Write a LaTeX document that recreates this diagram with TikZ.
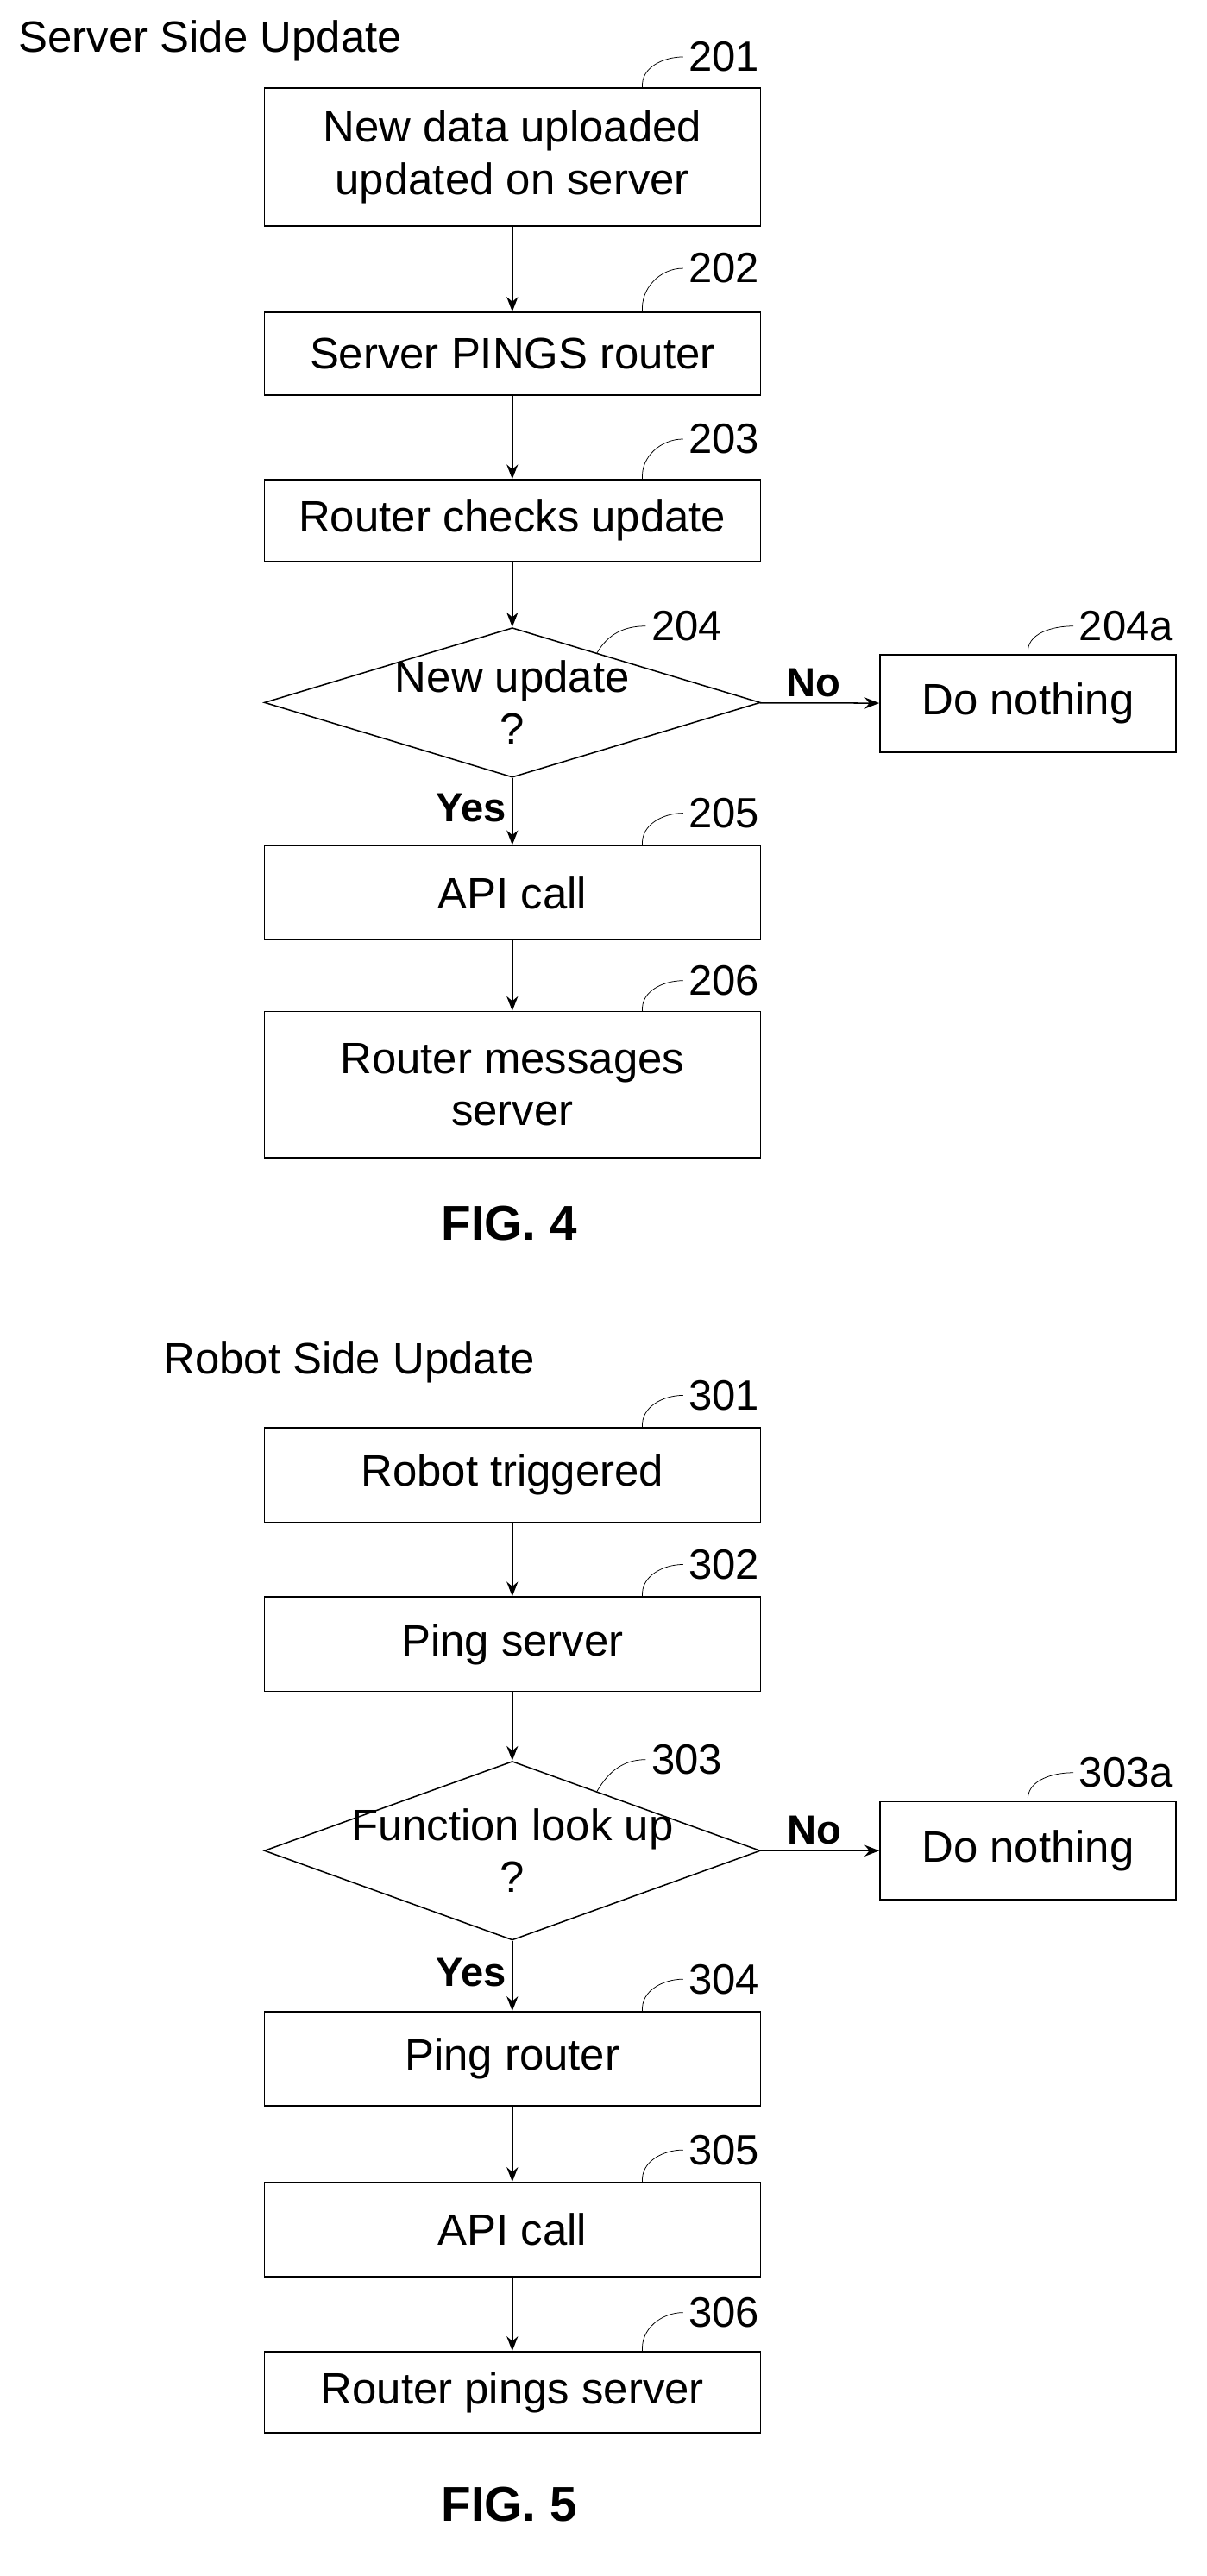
\documentclass[tikz,border=0pt]{standalone}
\usepackage{fontspec}
\setmainfont{Liberation Sans}
\usetikzlibrary{shapes.geometric,arrows.meta}

\begin{document}
\begin{tikzpicture}[x=1pt, y=-1pt,
    box/.style={rectangle, draw, thick, minimum width=305pt, align=center,
      font=\fontsize{27}{32}\selectfont, inner sep=2pt},
    side/.style={rectangle, draw, thick, minimum width=182pt, minimum height=60pt,
      font=\fontsize{27}{32}\selectfont},
    decide/.style={diamond, draw, thick, minimum width=305pt, minimum height=92pt,
      inner xsep=-90pt, inner ysep=-30pt, align=center, font=\fontsize{27}{32}\selectfont},
    tag/.style={font=\fontsize{26}{30}\selectfont, anchor=west},
    lead/.style={thin},
    flow/.style={-{Stealth[length=9pt,width=7pt]}, thick},
    yn/.style={font=\bfseries\fontsize{25}{30}\selectfont},
    fig/.style={font=\bfseries\fontsize{30}{34}\selectfont}]
    \useasboundingbox (0,0) rectangle (742,1584);

    % FIG. 4
    \node[anchor=west, font=\fontsize{27}{32}\selectfont] (srvtitle) at (8,25) {Server Side Update};
    \node[box, minimum height=85pt] (b201) at (315,96.5) {New data uploaded\\updated on server};
    \node[box, minimum height=51pt] (b202) at (315,217.5) {Server PINGS router};
    \node[box, minimum height=50pt] (b203) at (315,320) {Router checks update};
    \node[decide] (d204) at (315,432) {New update\\?};
    \node[side] (b204a) at (632,432.5) {Do nothing};
    \node[box, minimum height=58pt] (b205) at (315,549) {API call};
    \node[box, minimum height=90pt] (b206) at (315,667) {Router messages\\server};
    \node[fig] (fig4) at (313,752) {FIG. 4};

    \node[tag] (t201) at (420,35) {201};
    \node[tag] (t202) at (420,165) {202};
    \node[tag] (t203) at (420,270) {203};
    \node[tag] (t204) at (397,385) {204};
    \node[tag] (t204a) at (660,385) {204a};
    \node[tag] (t205) at (420,500) {205};
    \node[tag] (t206) at (420,603) {206};

    \draw[lead] (b201.north)++(80,0) to[out=95,in=180] (t201.west);
    \draw[lead] (b202.north)++(80,0) to[out=95,in=180] (t202.west);
    \draw[lead] (b203.north)++(80,0) to[out=95,in=180] (t203.west);
    \draw[lead] (d204.north)++(52,16) to[out=60,in=180] (t204.west);
    \draw[lead] (b204a.north)++(0,0) to[out=95,in=180] (t204a.west);
    \draw[lead] (b205.north)++(80,0) to[out=95,in=180] (t205.west);
    \draw[lead] (b206.north)++(80,0) to[out=95,in=180] (t206.west);

    \draw[flow] (b201) -- (b202);
    \draw[flow] (b202) -- (b203);
    \draw[flow] (b203) -- (d204);
    \draw[flow] (d204) -- node[yn, pos=0.45, above] {No} (b204a);
    \draw[flow] (d204) -- node[yn, left, pos=0.45] {Yes} (b205);
    \draw[flow] (b205) -- (b206);

    % FIG. 5
    \node[anchor=west, font=\fontsize{27}{32}\selectfont] (robtitle) at (97,838) {Robot Side Update};
    \node[box, minimum height=58pt] (b301) at (315,907) {Robot triggered};
    \node[box, minimum height=58pt] (b302) at (315,1011) {Ping server};
    \node[decide, minimum height=110pt] (d303) at (315,1138) {Function look up\\?};
    \node[side] (b303a) at (632,1138) {Do nothing};
    \node[box, minimum height=58pt] (b304) at (315,1266) {Ping router};
    \node[box, minimum height=58pt] (b305) at (315,1371) {API call};
    \node[box, minimum height=50pt] (b306) at (315,1471) {Router pings server};
    \node[fig] (fig5) at (313,1540) {FIG. 5};

    \node[tag] (t301) at (420,858) {301};
    \node[tag] (t302) at (420,962) {302};
    \node[tag] (t303) at (397,1082) {303};
    \node[tag] (t303a) at (660,1090) {303a};
    \node[tag] (t304) at (420,1217) {304};
    \node[tag] (t305) at (420,1322) {305};
    \node[tag] (t306) at (420,1422) {306};

    \draw[lead] (b301.north)++(80,0) to[out=95,in=180] (t301.west);
    \draw[lead] (b302.north)++(80,0) to[out=95,in=180] (t302.west);
    \draw[lead] (d303.north)++(52,19) to[out=60,in=180] (t303.west);
    \draw[lead] (b303a.north)++(0,0) to[out=95,in=180] (t303a.west);
    \draw[lead] (b304.north)++(80,0) to[out=95,in=180] (t304.west);
    \draw[lead] (b305.north)++(80,0) to[out=95,in=180] (t305.west);
    \draw[lead] (b306.north)++(80,0) to[out=95,in=180] (t306.west);

    \draw[flow] (b301) -- (b302);
    \draw[flow] (b302) -- (d303);
    \draw[flow] (d303) -- node[yn, pos=0.45, above] {No} (b303a);
    \draw[flow] (d303) -- node[yn, left, pos=0.45] {Yes} (b304);
    \draw[flow] (b304) -- (b305);
    \draw[flow] (b305) -- (b306);
\end{tikzpicture}
\end{document}
